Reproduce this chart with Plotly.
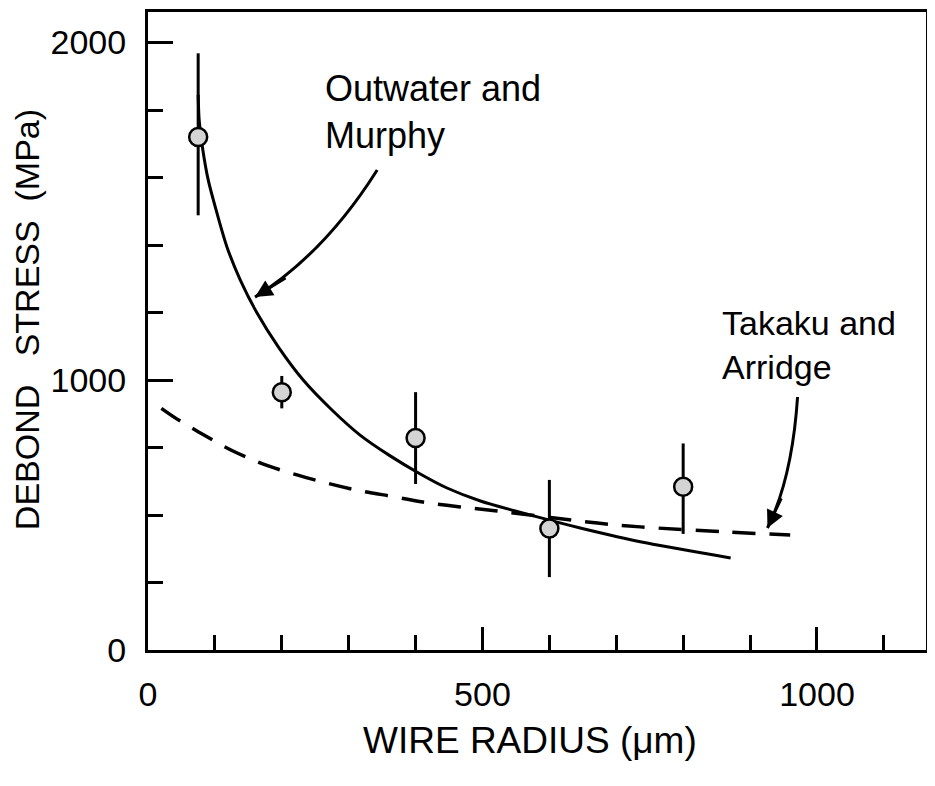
import plotly.graph_objects as go

# ---- data ----
radius = [75, 200, 400, 600, 800]
stress = [1900, 955, 785, 450, 605]
err_up = [310, 60, 170, 180, 160]
err_down = [290, 60, 170, 180, 175]

om_x = [75, 76.5, 82, 90, 103, 118, 138, 163, 195, 232, 275, 317, 362, 407, 447, 497, 582, 646, 746, 871]
om_y = [2056, 1963, 1852, 1741, 1619, 1493, 1370, 1248, 1122, 1000, 889, 796, 719, 652, 600, 552, 493, 452, 396, 341]

ta_x = [20, 43, 81, 127, 181, 245, 305, 369, 411, 467, 522, 672, 736, 866, 960]
ta_y = [895, 856, 800, 737, 681, 633, 596, 567, 548, 530, 515, 470, 456, 437, 426]

x_major = [0, 500, 1000]
x_major_text = ["0", "500", "1000"]
x_minor = [100, 200, 300, 400, 600, 700, 800, 900, 1100]
y_major = [0, 1000, 2250]
y_major_text = ["0", "1000", "2000"]
y_minor = [250, 500, 750, 1250, 1500, 1750, 2000]

# label / arrow anchors (data units)
om_label = (262, 1993)
om_arrow = dict(start=(342.6, 1778), ctrl=(264, 1469), tip=(160, 1307), tail=(208, 1381))
ta_label = (855, 1130)
ta_arrow = dict(start=(971, 937), ctrl=(963, 637), tip=(926, 452), tail=(948, 567))

FONT = "Liberation Sans, Arial, sans-serif"
FS = 34

fig = go.Figure()
fig.add_trace(go.Scatter(x=om_x, y=om_y, mode="lines",
                         line=dict(color="black", width=3, shape="spline", smoothing=0.8),
                         showlegend=False, hoverinfo="skip"))
fig.add_trace(go.Scatter(x=ta_x, y=ta_y, mode="lines",
                         line=dict(color="black", width=3.5, dash="23px,14px", shape="spline"),
                         showlegend=False, hoverinfo="skip"))
fig.add_trace(go.Scatter(x=radius, y=stress, mode="markers",
                         marker=dict(size=18, color="#d4d4d4", line=dict(color="black", width=2.5)),
                         error_y=dict(type="data", symmetric=False, array=err_up, arrayminus=err_down,
                                      thickness=3, width=0, color="black"),
                         showlegend=False))

for arr in (om_arrow, ta_arrow):
    (sx, sy), (cx, cy), (tx, ty) = arr["start"], arr["ctrl"], arr["tip"]
    fig.add_shape(type="path", path=f"M {sx},{sy} Q {cx},{cy} {tx},{ty}",
                  line=dict(color="black", width=3), xref="x", yref="y")
    fig.add_annotation(x=tx, y=ty, ax=arr["tail"][0], ay=arr["tail"][1], axref="x", ayref="y",
                       xref="x", yref="y", showarrow=True, arrowhead=2, arrowsize=1.4,
                       arrowwidth=2.5, arrowcolor="black", text="")

fig.add_annotation(x=om_label[0], y=om_label[1], xref="x", yref="y", text="Outwater and<br>Murphy",
                   showarrow=False, xanchor="left", yanchor="middle", align="left",
                   font=dict(family=FONT, size=36, color="black"))
fig.add_annotation(x=ta_label[0], y=ta_label[1], xref="x", yref="y", text="Takaku and<br>Arridge",
                   showarrow=False, xanchor="left", yanchor="middle", align="left",
                   font=dict(family=FONT, size=34, color="black"))

# axis titles
fig.add_annotation(x=0.491, y=-0.1426, xref="paper", yref="paper", text="WIRE RADIUS (μm)",
                   showarrow=False, xanchor="center", yanchor="middle",
                   font=dict(family=FONT, size=37, color="black"))
fig.add_annotation(x=-0.1555, y=0.517, xref="paper", yref="paper",
                   text="DEBOND\u00a0\u00a0\u00a0STRESS\u00a0\u00a0(MPa)", textangle=-90,
                   showarrow=False, xanchor="center", yanchor="middle",
                   font=dict(family=FONT, size=34, color="black"))

fig.update_xaxes(range=[0, 1163], showgrid=False, zeroline=False, showline=True, linewidth=3,
                 linecolor="black", mirror=True, ticks="inside", ticklen=23, tickwidth=2.5,
                 tickcolor="black", tickmode="array", tickvals=x_major, ticktext=x_major_text,
                 ticklabelstandoff=12,
                 tickfont=dict(family=FONT, size=FS, color="black"),
                 minor=dict(tickmode="array", tickvals=x_minor, ticks="inside", ticklen=15,
                            tickwidth=2.5, tickcolor="black", showgrid=False))
fig.update_yaxes(range=[0, 2363], showgrid=False, zeroline=False, showline=True, linewidth=3,
                 linecolor="black", mirror=True, ticks="inside", ticklen=25, tickwidth=2.5,
                 tickcolor="black", tickmode="array", tickvals=y_major, ticktext=y_major_text,
                 ticklabelstandoff=12,
                 tickfont=dict(family=FONT, size=FS, color="black"),
                 minor=dict(tickmode="array", tickvals=y_minor, ticks="inside", ticklen=15,
                            tickwidth=2.5, tickcolor="black", showgrid=False))

fig.update_layout(width=927, height=778, margin=dict(l=140, r=9, t=4, b=136, autoexpand=False),
                  paper_bgcolor="white", plot_bgcolor="white", showlegend=False)

fig.write_html("out.html")
